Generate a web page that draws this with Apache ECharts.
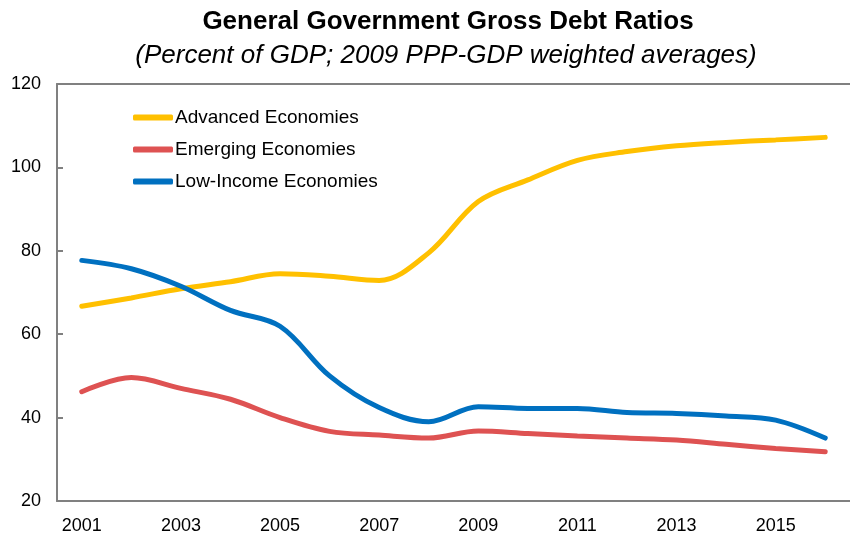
<!DOCTYPE html>
<html>
<head>
<meta charset="utf-8">
<script src="https://cdn.jsdelivr.net/npm/echarts@6/dist/echarts.min.js"></script>
<style>
  html, body { margin: 0; padding: 0; background: #fff; }
  #chart { width: 850px; height: 535px; }
</style>
</head>
<body>
<div id="chart"></div>
<script>
const years = ["2001", "2002", "2003", "2004", "2005", "2006", "2007", "2008",
  "2009", "2010", "2011", "2012", "2013", "2014", "2015", "2016"];
const advanced = [66.7, 68.7, 70.9, 72.6, 74.5, 73.9, 72.9, 79.5,
  91.8, 97.0, 101.7, 103.8, 105.2, 106.0, 106.6, 107.2];
const emerging = [46.2, 49.6, 47.0, 44.4, 40.0, 36.7, 35.8, 35.1,
  36.8, 36.2, 35.6, 35.1, 34.6, 33.6, 32.6, 31.8];
const lowIncome = [77.7, 75.7, 71.5, 65.7, 61.9, 50.0, 42.4, 39.0,
  42.6, 42.2, 42.2, 41.2, 41.0, 40.4, 39.4, 35.1];

const font = "Liberation Sans, Arial, sans-serif";
const axisGray = "#808080";

const chart = echarts.init(document.getElementById("chart"));

function line(name, data, color) {
  return {
    name: name,
    type: "line",
    data: data,
    smooth: 0.35,
    showSymbol: false,
    lineStyle: { width: 5, color: color, cap: "round" },
    itemStyle: { color: color },
  };
}

chart.setOption({
  animation: false,
  title: [
    {
      text: "General Government Gross Debt Ratios",
      left: 443,
      top: 4,
      textAlign: "center",
      textStyle: { fontFamily: font, fontSize: 26, fontWeight: "bold", color: "#000" },
    },
    {
      text: "(Percent of GDP; 2009 PPP-GDP weighted averages)",
      left: 441,
      top: 38,
      textAlign: "center",
      textStyle: { fontFamily: font, fontSize: 26, fontStyle: "italic", fontWeight: "normal", color: "#000" },
    },
  ],
  legend: {
    orient: "vertical",
    left: 128,
    top: 103,
    itemWidth: 40,
    itemHeight: 6,
    itemGap: 13,
    icon: "roundRect",
    textStyle: { fontFamily: font, fontSize: 19, color: "#000", padding: [0, 0, 0, -3] },
    data: ["Advanced Economies", "Emerging Economies", "Low-Income Economies"],
  },
  grid: { left: 57, top: 84, width: 808, height: 418, containLabel: false },
  xAxis: [
    {
      type: "category",
      data: years,
      boundaryGap: true,
      axisLine: { lineStyle: { color: axisGray, width: 2 } },
      axisTick: { inside: true, length: 6, interval: 0, lineStyle: { color: axisGray, width: 2 } },
      axisLabel: { interval: 1, margin: 16, fontFamily: font, fontSize: 18, color: "#000" },
      splitLine: { show: false },
    },
    {
      type: "category",
      data: years,
      position: "top",
      axisLine: { lineStyle: { color: axisGray, width: 2 } },
      axisTick: { show: false },
      axisLabel: { show: false },
    },
  ],
  yAxis: {
    type: "value",
    min: 20,
    max: 120,
    interval: 20,
    axisLine: { show: true, lineStyle: { color: axisGray, width: 2 } },
    axisTick: { show: true, inside: true, length: 6, lineStyle: { color: axisGray, width: 2 } },
    axisLabel: { margin: 16, fontFamily: font, fontSize: 18, color: "#000" },
    splitLine: { show: false },
  },
  series: [
    line("Advanced Economies", advanced, "#FFC000"),
    line("Emerging Economies", emerging, "#DE5252"),
    line("Low-Income Economies", lowIncome, "#0070C0"),
  ],
});
</script>
</body>
</html>
